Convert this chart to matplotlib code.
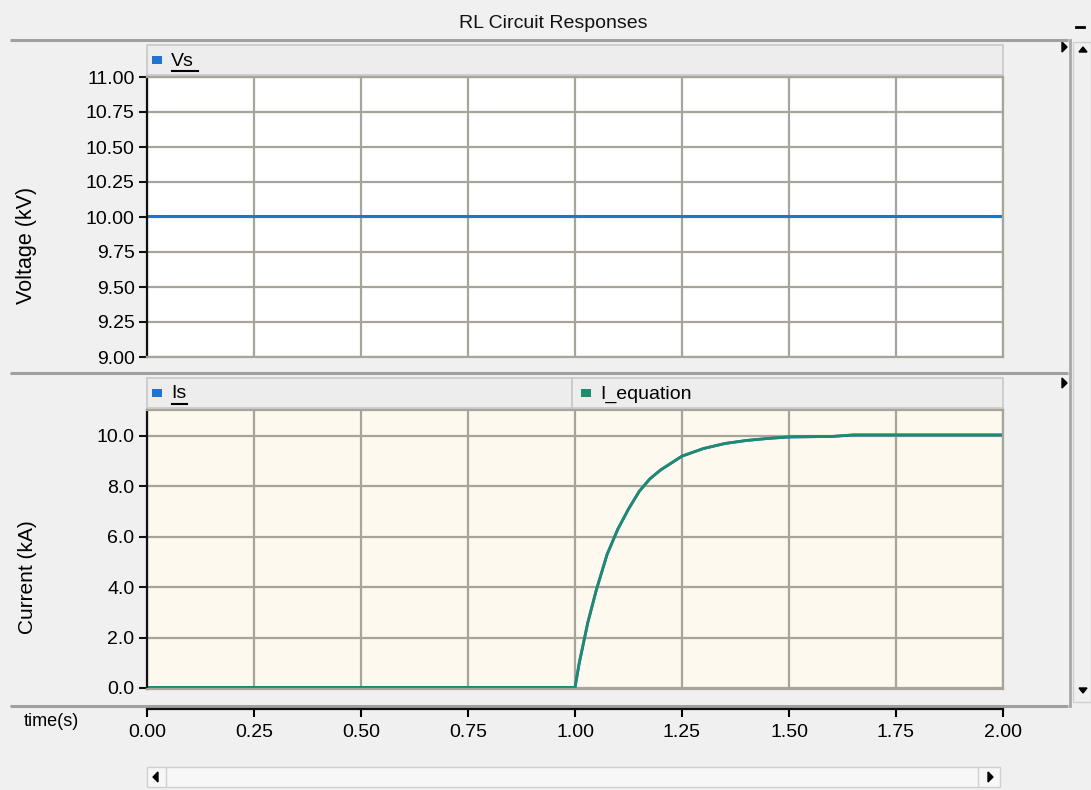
import matplotlib
matplotlib.use("Agg")
import matplotlib.pyplot as plt
from matplotlib.patches import Rectangle, Polygon
import numpy as np

plt.rcParams['font.family'] = ['Liberation Sans', 'DejaVu Sans']

# ---------------- data ----------------
title = "RL Circuit Responses"
t_vs = [0.0, 2.0]
vs_kv = [10.01, 10.01]

t_i = [0.0, 1.0, 1.01, 1.02, 1.03, 1.05, 1.075, 1.1, 1.125, 1.15, 1.175, 1.2,
       1.25, 1.3, 1.35, 1.4, 1.45, 1.5, 1.6, 1.65, 1.8, 2.0]
is_ka = [0.02, 0.02, 1.0, 1.8, 2.6, 3.9, 5.3, 6.3, 7.1, 7.8, 8.3, 8.65,
         9.2, 9.5, 9.7, 9.82, 9.9, 9.96, 9.98, 10.04, 10.04, 10.04]
i_eq_ka = list(is_ka)

x_ticks = [0.00, 0.25, 0.50, 0.75, 1.00, 1.25, 1.50, 1.75, 2.00]
v_ticks = [9.00, 9.25, 9.50, 9.75, 10.00, 10.25, 10.50, 10.75, 11.00]
i_ticks = [0.0, 2.0, 4.0, 6.0, 8.0, 10.0]

# ---------------- layout helpers ----------------
W, H = 1091, 790
fig = plt.figure(figsize=(W / 100, H / 100), dpi=100)
fig.patch.set_facecolor('#F0F0F0')

def rect(x0, y0, x1, y1):
    return [x0 / W, 1 - y1 / H, (x1 - x0) / W, (y1 - y0) / H]

FS = 14
GRID = '#A8A49C'
BLUE = '#1E74D0'
GREEN = '#1F8A6E'

# overlay for window decorations
ov = fig.add_axes([0, 0, 1, 1])
ov.set_xlim(0, W)
ov.set_ylim(H, 0)
ov.axis('off')
ov.set_zorder(0)

# title bar
ov.add_patch(Rectangle((10, 8), 1058, 32, facecolor='#F0F0F0', edgecolor='none'))
ov.text(553, 23, title, ha='center', va='center', fontsize=FS, color='#111111')
for y in (40, 373, 706):
    ov.plot([10, 1068], [y, y], color='#A0A0A0', lw=2.2, solid_capstyle='butt')
# minus button
ov.plot([1076, 1084], [27, 27], color='black', lw=2)
# right vertical scrollbar
ov.plot([1070, 1070], [40, 706], color='#A8A8A8', lw=2)
ov.add_patch(Rectangle((1073, 42), 18, 660, facecolor='#F0F0F0', edgecolor='#D0D0D0', lw=1))
ov.add_patch(Polygon([[1079, 52], [1087, 52], [1083, 47]], closed=True, color='black'))
ov.add_patch(Polygon([[1079, 688], [1087, 688], [1083, 693]], closed=True, color='black'))
# small expand triangles
for yc in (47, 383):
    ov.add_patch(Polygon([[1062, yc - 5], [1062, yc + 5], [1067, yc]], closed=True, color='black'))

# legend bars
def legend_bar(x0, x1, y0, y1):
    ov.add_patch(Rectangle((x0, y0), x1 - x0, y1 - y0, facecolor='#EDEDED',
                           edgecolor='#C8C8C8', lw=1.2))

legend_bar(147, 1003, 45, 75)
legend_bar(147, 572, 378, 408)
legend_bar(572, 1003, 378, 408)

def legend_item(x, y, color, label):
    ov.add_patch(Rectangle((x, y - 4), 10, 8, facecolor=color, edgecolor='none'))
    ov.text(x + 19, y + 1, label, ha='left', va='center', fontsize=FS, color='black')

legend_item(152, 60, BLUE, 'Vs')
ov.plot([172, 198], [71, 71], color='black', lw=1.5)
legend_item(152, 393, BLUE, 'Is')
ov.plot([172, 187], [404, 404], color='black', lw=1.5)
legend_item(581, 393, GREEN, 'I_equation')

# time label
ov.text(51, 721, 'time(s)', ha='center', va='center', fontsize=13, color='black')

# horizontal scrollbar
ov.add_patch(Rectangle((147, 767), 853, 20, facecolor='#F7F7F7', edgecolor='#D0D0D0', lw=1))
ov.plot([166, 166], [768, 786], color='#D0D0D0', lw=1)
ov.plot([978, 978], [768, 786], color='#D0D0D0', lw=1)
ov.add_patch(Polygon([[158, 772], [158, 782], [153, 777]], closed=True, color='black'))
ov.add_patch(Polygon([[988, 772], [988, 782], [993, 777]], closed=True, color='black'))

# ---------------- plot axes ----------------
def style_axes(ax, face):
    ax.set_facecolor(face)
    ax.set_xlim(0, 2)
    ax.set_xticks(x_ticks)
    ax.tick_params(axis='x', length=0, labelbottom=False)
    ax.grid(True, color=GRID, lw=1.6)
    ax.set_axisbelow(True)
    for s in ('top', 'right', 'bottom'):
        ax.spines[s].set_color(GRID)
        ax.spines[s].set_linewidth(1.6)
    ax.spines['left'].set_color('#111111')
    ax.spines['left'].set_linewidth(1.6)
    ax.tick_params(axis='y', direction='out', length=6, width=1.5, color='#111111',
                   labelsize=FS, pad=3)

ax1 = fig.add_axes(rect(147, 77, 1003, 357))
style_axes(ax1, 'white')
ax1.plot(t_vs, vs_kv, color=BLUE, lw=2.2)
ax1.set_ylim(9.0, 11.0)
ax1.set_yticks(v_ticks)
ax1.set_yticklabels([f'{v:.2f}' for v in v_ticks])
ax1.set_ylabel('Voltage (kV)', fontsize=15.5)
ax1.yaxis.set_label_coords(-0.1285, 0.40)

ax2 = fig.add_axes(rect(147, 410, 1003, 689))
style_axes(ax2, '#FDF9EE')
ax2.plot(t_i, is_ka, color=BLUE, lw=2.0)
ax2.plot(t_i, i_eq_ka, color=GREEN, lw=2.0)
ax2.set_ylim(-0.04, 11.03)
ax2.set_yticks(i_ticks)
ax2.set_yticklabels([f'{v:.1f}' for v in i_ticks])
ax2.set_ylabel('Current (kA)', fontsize=15)
ax2.yaxis.set_label_coords(-0.1285, 0.40)

# time axis
ax3 = fig.add_axes(rect(147, 708, 1003, 709))
ax3.set_xlim(0, 2)
ax3.set_xticks(x_ticks)
ax3.set_xticklabels([f'{v:.2f}' for v in x_ticks])
ax3.set_yticks([])
ax3.patch.set_visible(False)
for s in ('top', 'right', 'left'):
    ax3.spines[s].set_visible(False)
ax3.spines['bottom'].set_linewidth(1.6)
ax3.spines['bottom'].set_color('#111111')
ax3.tick_params(axis='x', direction='out', length=6, width=1.5, labelsize=FS, pad=5)

fig.savefig('out.png', dpi=100, facecolor=fig.get_facecolor())
